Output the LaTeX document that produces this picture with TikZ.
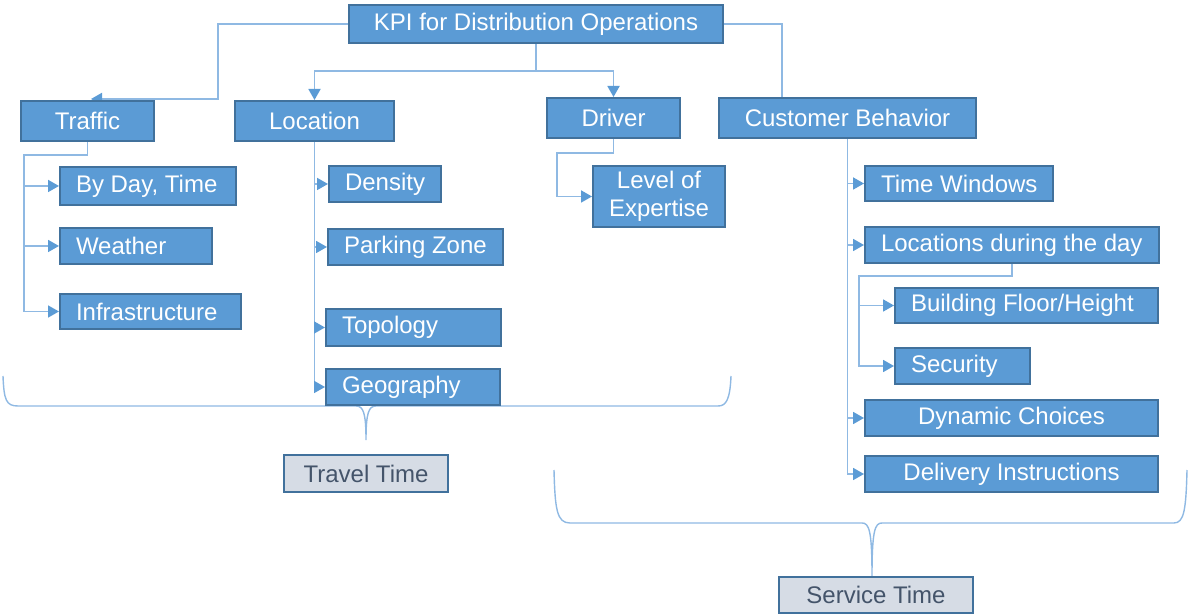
\documentclass[tikz,border=0pt]{standalone}
\usepackage{fontspec}
\setmainfont{Liberation Sans}
\usetikzlibrary{arrows.meta,backgrounds}
\definecolor{boxblue}{HTML}{5B9BD5}
\definecolor{boxborder}{HTML}{41719C}
\definecolor{connc}{HTML}{8FB9E3}
\definecolor{arrc}{HTML}{5B9BD5}
\definecolor{grayfill}{HTML}{D6DCE5}
\definecolor{graytext}{HTML}{44546A}
\newcommand\lbtext[2]{\makebox[#1pt][l]{#2}}
\tikzset{
  box/.style={draw=boxborder, fill=boxblue, line width=1pt, text=white,
    font=\fontsize{12}{14}\selectfont, anchor=north west, inner xsep=8pt, inner ysep=0pt},
  lbox/.style={box},
  cbox/.style={box, align=center},
  gbox/.style={box, align=center, fill=grayfill, text=graytext},
  conn/.style={draw=connc, line width=0.9pt},
  arr/.style={-{Triangle[length=5.5pt,width=6pt,color=arrc]}},
  bracel/.style={draw=connc, line width=0.7pt}
}
\begin{document}
\begin{tikzpicture}[x=0.5pt,y=-0.5pt]
\useasboundingbox (0,0) rectangle (1188,614);
% level 0
\node[cbox, minimum width=187pt, minimum height=19pt] (kpi) at (348,4) {KPI for Distribution Operations};
% level 1
\node[cbox, minimum width=66.5pt, minimum height=20pt] (traffic) at (20,100) {Traffic};
\node[cbox, minimum width=79.5pt, minimum height=20pt] (location) at (234,100) {Location};
\node[cbox, minimum width=66.5pt, minimum height=20pt] (driver) at (546,97) {Driver};
\node[cbox, minimum width=128.5pt, minimum height=20pt] (cb) at (718,97) {Customer Behavior};
% traffic children
\node[lbox, minimum width=88pt, minimum height=19pt] (byday) at (59,166) {\lbtext{72}{By Day, Time}};
\node[lbox, minimum width=76pt, minimum height=18pt] (weather) at (59,227) {\lbtext{60}{Weather}};
\node[lbox, minimum width=90.5pt, minimum height=17.5pt] (infra) at (59,293) {\lbtext{74.5}{Infrastructure}};
% location children
\node[lbox, minimum width=56pt, minimum height=18pt] (density) at (328,165) {\lbtext{40}{Density}};
\node[lbox, minimum width=87.5pt, minimum height=18pt] (parking) at (327,228) {\lbtext{71.5}{Parking Zone}};
\node[lbox, minimum width=87.5pt, minimum height=18.5pt] (topology) at (325,308) {\lbtext{71.5}{Topology}};
\node[lbox, minimum width=87pt, minimum height=18pt] (geography) at (325,368) {\lbtext{71}{Geography}};
% driver child
\node[cbox, minimum width=65.5pt, minimum height=30.5pt] (loe) at (592,165) {Level of\\Expertise};
% customer behavior children
\node[lbox, minimum width=94pt, minimum height=17.5pt] (timewin) at (864,165) {\lbtext{78}{Time Windows}};
\node[lbox, minimum width=147pt, minimum height=18pt] (locday) at (864,226) {\lbtext{131}{Locations during the day}};
\node[lbox, minimum width=131.5pt, minimum height=17.5pt] (building) at (894,287) {\lbtext{115.5}{Building Floor/Height}};
\node[lbox, minimum width=67.5pt, minimum height=18pt] (security) at (894,347) {\lbtext{51.5}{Security}};
\node[cbox, minimum width=146.5pt, minimum height=18pt] (dynamic) at (864,399) {Dynamic Choices};
\node[cbox, minimum width=146.5pt, minimum height=18pt] (delivery) at (864,455) {Delivery Instructions};
% summary boxes
\node[gbox, minimum width=82pt, minimum height=18.5pt] (travel) at (283,454) {Travel Time};
\node[gbox, minimum width=97pt, minimum height=18pt] (service) at (778,576) {Service Time};

\begin{scope}[on background layer]
% top level connectors
\draw[conn, arr] (kpi.west) -| (218,99) -- ++(-127,0);
\draw[conn, arr] (kpi.south) -- ++(0,27) -| (location.north);
\draw[conn, arr] (kpi.south) -- ++(0,27) -| (driver.north);
\draw[conn] (kpi.east) -| ([xshift=32pt]cb.north west);
% traffic
\draw[conn, arr] (traffic.south) -- ++(0,13) -| ([xshift=-17.5pt]infra.west) -- (infra.west);
\draw[conn, arr] ([xshift=-17.5pt]byday.west) -- (byday.west);
\draw[conn, arr] ([xshift=-17.5pt]weather.west) -- (weather.west);
% location
\draw[conn, arr] (location.south) |- (geography.west);
\draw[conn, arr] (location.south |- density.west) -- (density.west);
\draw[conn, arr] (location.south |- parking.west) -- (parking.west);
\draw[conn, arr] (location.south |- topology.west) -- (topology.west);
% driver
\draw[conn, arr] (driver.south) -- ++(0,14) -| ([xshift=-17.5pt]loe.west) -- (loe.west);
% customer behavior
\draw[conn, arr] (cb.south) |- (delivery.west);
\draw[conn, arr] (cb.south |- timewin.west) -- (timewin.west);
\draw[conn, arr] (cb.south |- locday.west) -- (locday.west);
\draw[conn, arr] (cb.south |- dynamic.west) -- (dynamic.west);
% locations during the day
\draw[conn, arr] (locday.south) -- ++(0,12) -| ([xshift=-17.5pt]security.west) -- (security.west);
\draw[conn, arr] ([xshift=-17.5pt]building.west) -- (building.west);
% braces
\draw[bracel] (3,376) .. controls (4,400) and (6,406) .. (18,406) -- (356,406)
  .. controls (363,406) and (366,412) .. (366,440)
  .. controls (366,412) and (369,406) .. (376,406) -- (718,406)
  .. controls (726,406) and (730,400) .. (731,376);
\draw[bracel] (554,470) .. controls (555,510) and (557,523) .. (570,523) -- (862,523)
  .. controls (869,523) and (872,530) .. (872,576)
  .. controls (872,530) and (875,523) .. (882,523) -- (1174,523)
  .. controls (1184,523) and (1186,510) .. (1187,470);
\end{scope}
\end{tikzpicture}
\end{document}
